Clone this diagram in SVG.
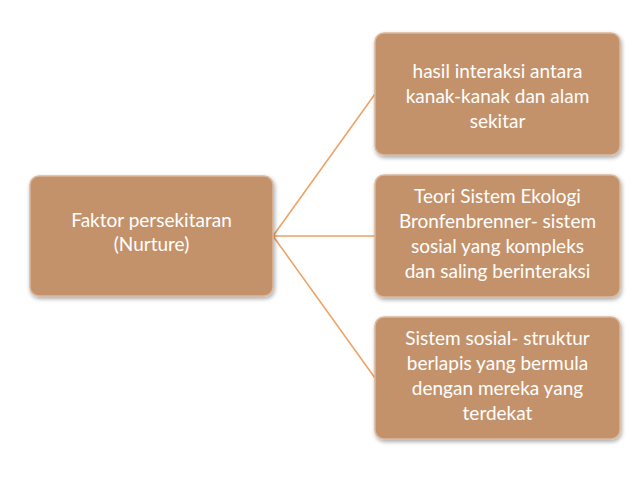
<svg xmlns="http://www.w3.org/2000/svg" width="638" height="479" viewBox="0 0 638 479">
<style>
.n{fill:#C4926A;stroke:#D9B89C;stroke-width:1.5}
.t{font-family:Lato,"Open Sans",sans-serif;font-size:19px;fill:#fff;text-anchor:middle}
.c{stroke:#F0A060;stroke-width:1.5;fill:none}
</style>
<defs><filter id="s" x="-10%" y="-10%" width="120%" height="130%"><feDropShadow dx="1" dy="2" stdDeviation="2" flood-opacity="0.35"/></filter></defs>
<rect width="638" height="479" fill="#fff"/>
<g id="connectors">
<path class="c" d="M273 236 L375 94"/><path class="c" d="M273 236 L375 236"/><path class="c" d="M273 236 L375 378"/>
</g>
<g id="n0"><rect class="n" filter="url(#s)" x="30" y="176" width="243" height="120" rx="9"/>
<text class="t" x="151.5" y="227">Faktor persekitaran</text><text class="t" x="151.5" y="251">(Nurture)</text></g>
<g id="n1"><rect class="n" filter="url(#s)" x="375" y="33" width="245" height="122" rx="9"/>
<text class="t" x="497.5" y="78">hasil interaksi antara</text><text class="t" x="497.5" y="103">kanak-kanak dan alam</text><text class="t" x="497.5" y="128">sekitar</text></g>
<g id="n2"><rect class="n" filter="url(#s)" x="375" y="175" width="245" height="122" rx="9"/>
<text class="t" x="497.5" y="203">Teori Sistem Ekologi</text><text class="t" x="497.5" y="228">Bronfenbrenner- sistem</text><text class="t" x="497.5" y="253">sosial yang kompleks</text><text class="t" x="497.5" y="278">dan saling berinteraksi</text></g>
<g id="n3"><rect class="n" filter="url(#s)" x="375" y="317" width="245" height="122" rx="9"/>
<text class="t" x="497.5" y="345">Sistem sosial- struktur</text><text class="t" x="497.5" y="370">berlapis yang bermula</text><text class="t" x="497.5" y="395">dengan mereka yang</text><text class="t" x="497.5" y="420">terdekat</text></g>
</svg>
